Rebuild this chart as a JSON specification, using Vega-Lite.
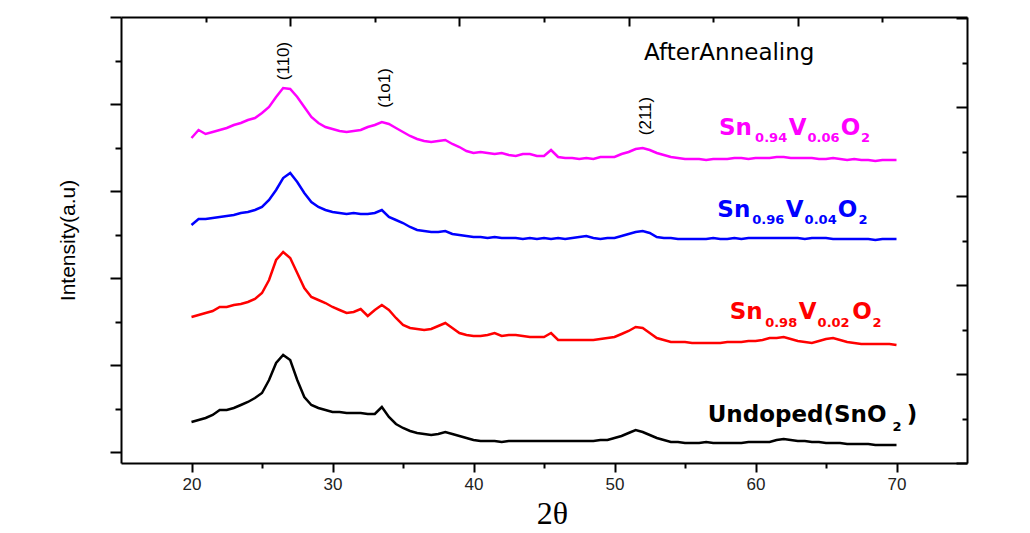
{
  "$schema": "https://vega.github.io/schema/vega-lite/v6.json",
  "width": 846,
  "height": 446,
  "autosize": "none",
  "padding": {"left": 121, "top": 17, "right": 63, "bottom": 70},
  "background": "white",
  "config": {
    "view": {"stroke": null},
    "font": "Liberation Sans",
    "axis": {"grid": false, "domainColor": "black", "domainWidth": 2, "tickColor": "black", "tickWidth": 2, "labelFont": "Liberation Sans", "labelColor": "#222", "titleColor": "black"}
  },
  "datasets": {
    "xrd": [
      {"x":20,"m":325,"b":238,"r":146,"k":41},
      {"x":20.5,"m":333,"b":244,"r":148,"k":43},
      {"x":21,"m":329,"b":244,"r":150,"k":45},
      {"x":21.5,"m":331,"b":245,"r":152,"k":48},
      {"x":22,"m":333,"b":246,"r":156,"k":53},
      {"x":22.5,"m":335,"b":247,"r":156,"k":53},
      {"x":23,"m":338,"b":248,"r":158,"k":55},
      {"x":23.5,"m":340,"b":250,"r":159,"k":58},
      {"x":24,"m":343,"b":251,"r":161,"k":61},
      {"x":24.5,"m":345,"b":253,"r":164,"k":65},
      {"x":25,"m":350,"b":256,"r":170,"k":70},
      {"x":25.5,"m":356,"b":263,"r":183,"k":83},
      {"x":26,"m":366,"b":273,"r":203,"k":100},
      {"x":26.5,"m":375,"b":285,"r":211,"k":108},
      {"x":27,"m":374,"b":290,"r":205,"k":103},
      {"x":27.5,"m":366,"b":281,"r":190,"k":83},
      {"x":28,"m":356,"b":270,"r":175,"k":66},
      {"x":28.5,"m":346,"b":261,"r":166,"k":58},
      {"x":29,"m":340,"b":256,"r":163,"k":55},
      {"x":29.5,"m":336,"b":253,"r":160,"k":53},
      {"x":30,"m":334,"b":251,"r":156,"k":51},
      {"x":30.5,"m":332,"b":250,"r":153,"k":51},
      {"x":31,"m":331,"b":249,"r":150,"k":50},
      {"x":31.5,"m":332,"b":250,"r":151,"k":50},
      {"x":32,"m":333,"b":249,"r":154,"k":50},
      {"x":32.5,"m":336,"b":249,"r":147,"k":49},
      {"x":33,"m":338,"b":250,"r":153,"k":49},
      {"x":33.5,"m":341,"b":253,"r":158,"k":56},
      {"x":34,"m":339,"b":246,"r":153,"k":46},
      {"x":34.5,"m":335,"b":243,"r":145,"k":39},
      {"x":35,"m":331,"b":240,"r":138,"k":35},
      {"x":35.5,"m":327,"b":236,"r":135,"k":32},
      {"x":36,"m":324,"b":233,"r":134,"k":30},
      {"x":36.5,"m":322,"b":232,"r":133,"k":29},
      {"x":37,"m":321,"b":231,"r":134,"k":28},
      {"x":37.5,"m":322,"b":231,"r":137,"k":29},
      {"x":38,"m":323,"b":232,"r":140,"k":31},
      {"x":38.5,"m":319,"b":229,"r":135,"k":29},
      {"x":39,"m":316,"b":228,"r":130,"k":27},
      {"x":39.5,"m":312,"b":227,"r":128,"k":25},
      {"x":40,"m":310,"b":226,"r":127,"k":23},
      {"x":40.5,"m":311,"b":226,"r":127,"k":22},
      {"x":41,"m":310,"b":225,"r":128,"k":22},
      {"x":41.5,"m":309,"b":226,"r":130,"k":22},
      {"x":42,"m":310,"b":225,"r":127,"k":21},
      {"x":42.5,"m":308,"b":225,"r":128,"k":22},
      {"x":43,"m":307,"b":225,"r":128,"k":22},
      {"x":43.5,"m":309,"b":224,"r":127,"k":22},
      {"x":44,"m":309,"b":225,"r":126,"k":22},
      {"x":44.5,"m":307,"b":224,"r":126,"k":22},
      {"x":45,"m":307,"b":225,"r":126,"k":22},
      {"x":45.5,"m":313,"b":224,"r":130,"k":22},
      {"x":46,"m":306,"b":225,"r":123,"k":22},
      {"x":46.5,"m":305,"b":224,"r":123,"k":22},
      {"x":47,"m":305,"b":225,"r":123,"k":22},
      {"x":47.5,"m":304,"b":226,"r":123,"k":22},
      {"x":48,"m":305,"b":227,"r":123,"k":22},
      {"x":48.5,"m":304,"b":225,"r":123,"k":22},
      {"x":49,"m":306,"b":224,"r":124,"k":23},
      {"x":49.5,"m":306,"b":225,"r":125,"k":23},
      {"x":50,"m":306,"b":225,"r":126,"k":25},
      {"x":50.5,"m":309,"b":227,"r":129,"k":27},
      {"x":51,"m":311,"b":229,"r":132,"k":30},
      {"x":51.5,"m":314,"b":231,"r":136,"k":33},
      {"x":52,"m":315,"b":232,"r":135,"k":31},
      {"x":52.5,"m":313,"b":230,"r":130,"k":28},
      {"x":53,"m":310,"b":226,"r":125,"k":25},
      {"x":53.5,"m":308,"b":225,"r":123,"k":23},
      {"x":54,"m":306,"b":225,"r":121,"k":21},
      {"x":54.5,"m":305,"b":224,"r":121,"k":21},
      {"x":55,"m":304,"b":224,"r":121,"k":20},
      {"x":55.5,"m":304,"b":224,"r":120,"k":20},
      {"x":56,"m":304,"b":224,"r":120,"k":20},
      {"x":56.5,"m":303,"b":224,"r":120,"k":21},
      {"x":57,"m":304,"b":225,"r":120,"k":20},
      {"x":57.5,"m":304,"b":224,"r":120,"k":20},
      {"x":58,"m":304,"b":224,"r":121,"k":20},
      {"x":58.5,"m":305,"b":225,"r":121,"k":20},
      {"x":59,"m":305,"b":224,"r":121,"k":20},
      {"x":59.5,"m":304,"b":225,"r":122,"k":21},
      {"x":60,"m":305,"b":225,"r":122,"k":21},
      {"x":60.5,"m":305,"b":225,"r":123,"k":21},
      {"x":61,"m":305,"b":225,"r":125,"k":21},
      {"x":61.5,"m":306,"b":225,"r":125,"k":23},
      {"x":62,"m":306,"b":225,"r":126,"k":24},
      {"x":62.5,"m":305,"b":225,"r":124,"k":23},
      {"x":63,"m":305,"b":225,"r":122,"k":22},
      {"x":63.5,"m":305,"b":224,"r":121,"k":22},
      {"x":64,"m":305,"b":225,"r":120,"k":21},
      {"x":64.5,"m":304,"b":225,"r":122,"k":21},
      {"x":65,"m":304,"b":225,"r":124,"k":20},
      {"x":65.5,"m":305,"b":224,"r":125,"k":20},
      {"x":66,"m":304,"b":224,"r":123,"k":20},
      {"x":66.5,"m":303,"b":224,"r":121,"k":19},
      {"x":67,"m":304,"b":224,"r":120,"k":19},
      {"x":67.5,"m":303,"b":224,"r":119,"k":19},
      {"x":68,"m":303,"b":224,"r":119,"k":19},
      {"x":68.5,"m":302,"b":223,"r":119,"k":18},
      {"x":69,"m":303,"b":224,"r":119,"k":18},
      {"x":69.5,"m":303,"b":224,"r":119,"k":18},
      {"x":70,"m":303,"b":224,"r":118,"k":18}
    ],
    "peaks": [
      {"x": 26.59, "y": 402, "t": "(110)"},
      {"x": 33.74, "y": 375, "t": "(1o1)"},
      {"x": 52.22, "y": 347, "t": "(211)"}
    ],
    "names": [
      {"s": "m", "kind": "main", "x": 58.58, "y": 328, "t": "Sn"},
      {"s": "m", "kind": "sub", "x": 61.11, "y": 321, "t": "0.94"},
      {"s": "m", "kind": "main", "x": 62.99, "y": 328, "t": "V"},
      {"s": "m", "kind": "sub", "x": 64.83, "y": 321, "t": "0.06"},
      {"s": "m", "kind": "main", "x": 66.74, "y": 328, "t": "O"},
      {"s": "m", "kind": "sub", "x": 67.8, "y": 321, "t": "2"},
      {"s": "b", "kind": "main", "x": 58.46, "y": 246, "t": "Sn"},
      {"s": "b", "kind": "sub", "x": 60.9, "y": 239, "t": "0.96"},
      {"s": "b", "kind": "main", "x": 62.78, "y": 246, "t": "V"},
      {"s": "b", "kind": "sub", "x": 64.62, "y": 239, "t": "0.04"},
      {"s": "b", "kind": "main", "x": 66.53, "y": 246, "t": "O"},
      {"s": "b", "kind": "sub", "x": 67.63, "y": 239, "t": "2"},
      {"s": "r", "kind": "main", "x": 59.34, "y": 144, "t": "Sn"},
      {"s": "r", "kind": "sub", "x": 61.82, "y": 136, "t": "0.98"},
      {"s": "r", "kind": "main", "x": 63.7, "y": 144, "t": "V"},
      {"s": "r", "kind": "sub", "x": 65.54, "y": 136, "t": "0.02"},
      {"s": "r", "kind": "main", "x": 67.56, "y": 144, "t": "O"},
      {"s": "r", "kind": "sub", "x": 68.62, "y": 136, "t": "2"},
      {"s": "k", "kind": "main", "x": 62.95, "y": 41, "t": "Undoped(SnO"},
      {"s": "k", "kind": "sub", "x": 70.04, "y": 32, "t": "2"},
      {"s": "k", "kind": "main", "x": 71.1, "y": 41, "t": ")"}
    ],
    "note": [
      {"x": 58.14, "y": 403, "t": "AfterAnnealing"}
    ]
  },
  "layer": [
    {
      "data": {"name": "xrd"},
      "transform": [{"fold": ["m", "b", "r", "k"], "as": ["s", "y"]}],
      "mark": {"type": "line", "strokeWidth": 2.5, "interpolate": "linear"},
      "encoding": {
        "x": {
          "field": "x", "type": "quantitative",
          "scale": {"domain": [15, 75], "nice": false, "zero": false},
          "axis": {
            "orient": "bottom",
            "values": [20, 25, 30, 35, 40, 45, 50, 55, 60, 65, 70],
            "tickSize": {"condition": {"test": "datum.value % 10 === 0", "value": 9}, "value": 5},
            "labelExpr": "datum.value % 10 === 0 ? datum.label : ''",
            "labelFontSize": 17,
            "labelPadding": 4,
            "labelFlush": false,
            "labelOverlap": false,
            "title": "2θ",
            "titleFont": "Liberation Serif",
            "titleFontSize": 32,
            "titleFontWeight": "normal",
            "titleX": 431,
            "titleY": 50,
            "titleAlign": "center",
            "titleBaseline": "middle"
          }
        },
        "y": {
          "field": "y", "type": "quantitative",
          "scale": {"domain": [0, 446], "nice": false, "zero": false},
          "axis": {
            "orient": "left",
            "values": [11, 54.5, 98, 141.5, 185, 228.5, 272, 315.5, 359, 402.5, 446],
            "tickSize": {"condition": {"test": "indexof([11, 98, 185, 272, 359, 446], datum.value) >= 0", "value": 11}, "value": 6},
            "labels": false,
            "title": "Intensity(a.u)",
            "titleFont": "Liberation Sans",
            "titleFontSize": 21,
            "titleFontWeight": "normal",
            "titleX": -53,
            "titleY": 223,
            "titleAngle": -90,
            "titleAlign": "center",
            "titleBaseline": "middle"
          }
        },
        "color": {
          "field": "s", "type": "nominal",
          "scale": {"domain": ["m", "b", "r", "k"], "range": ["#ff00ff", "#0000ff", "#ff0000", "#000000"]},
          "legend": null
        }
      }
    },
    {
      "data": {"name": "peaks"},
      "mark": {"type": "text", "angle": 270, "align": "center", "baseline": "middle", "font": "Liberation Sans", "fontSize": 17, "color": "black"},
      "encoding": {
        "x": {
          "field": "x", "type": "quantitative",
          "scale": {"domain": [15, 75], "nice": false, "zero": false},
          "axis": {
            "orient": "top",
            "values": [21, 27, 33, 39, 45, 51, 57, 63, 69],
            "tickSize": {"condition": {"test": "indexof([27, 39, 51, 63], datum.value) >= 0", "value": -9}, "value": -5},
            "labels": false,
            "title": null
          }
        },
        "y": {
          "field": "y", "type": "quantitative",
          "scale": {"domain": [0, 446], "nice": false, "zero": false},
          "axis": {
            "orient": "right",
            "values": [0, 44.5, 89, 133.5, 178, 222.5, 267, 311.5, 356, 400.5, 445],
            "tickSize": {"condition": {"test": "indexof([0, 89, 178, 267, 356, 445], datum.value) >= 0", "value": -11}, "value": -5},
            "labels": false,
            "title": null
          }
        },
        "text": {"field": "t", "type": "nominal"}
      }
    },
    {
      "data": {"name": "note"},
      "mark": {"type": "text", "align": "center", "baseline": "alphabetic", "font": "DejaVu Sans", "fontSize": 23, "color": "black"},
      "encoding": {
        "x": {"field": "x", "type": "quantitative", "scale": {"domain": [15, 75], "nice": false, "zero": false}, "axis": null},
        "y": {"field": "y", "type": "quantitative", "scale": {"domain": [0, 446], "nice": false, "zero": false}, "axis": null},
        "text": {"field": "t", "type": "nominal"}
      }
    },
    {
      "data": {"name": "names"},
      "transform": [{"filter": "datum.kind === 'main'"}],
      "mark": {"type": "text", "align": "center", "baseline": "alphabetic", "font": "DejaVu Sans", "fontWeight": "bold", "fontSize": 23},
      "encoding": {
        "x": {"field": "x", "type": "quantitative", "scale": {"domain": [15, 75], "nice": false, "zero": false}, "axis": null},
        "y": {"field": "y", "type": "quantitative", "scale": {"domain": [0, 446], "nice": false, "zero": false}, "axis": null},
        "text": {"field": "t", "type": "nominal"},
        "color": {"field": "s", "type": "nominal", "scale": {"domain": ["m", "b", "r", "k"], "range": ["#ff00ff", "#0000ff", "#ff0000", "#000000"]}, "legend": null}
      }
    },
    {
      "data": {"name": "names"},
      "transform": [{"filter": "datum.kind === 'sub'"}],
      "mark": {"type": "text", "align": "center", "baseline": "alphabetic", "font": "DejaVu Sans", "fontWeight": "bold", "fontSize": 13},
      "encoding": {
        "x": {"field": "x", "type": "quantitative", "scale": {"domain": [15, 75], "nice": false, "zero": false}, "axis": null},
        "y": {"field": "y", "type": "quantitative", "scale": {"domain": [0, 446], "nice": false, "zero": false}, "axis": null},
        "text": {"field": "t", "type": "nominal"},
        "color": {"field": "s", "type": "nominal", "scale": {"domain": ["m", "b", "r", "k"], "range": ["#ff00ff", "#0000ff", "#ff0000", "#000000"]}, "legend": null}
      }
    }
  ],
  "resolve": {"axis": {"x": "independent", "y": "independent"}}
}
